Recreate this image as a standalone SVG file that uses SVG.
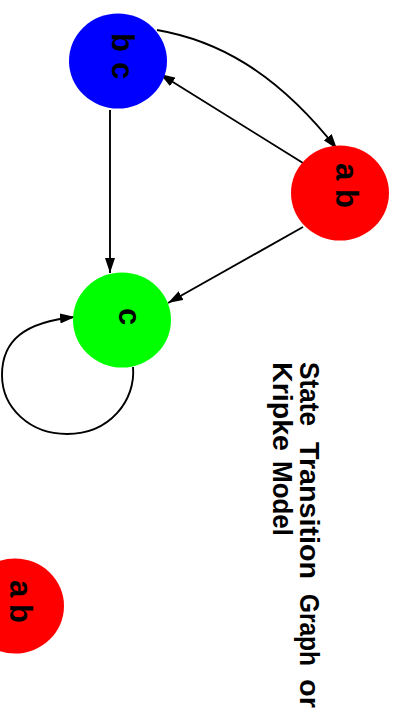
<svg xmlns="http://www.w3.org/2000/svg" width="396" height="715" viewBox="0 0 396 715">
  <style>
    .lbl { font-family: "Liberation Sans", Arial, sans-serif; font-weight: bold; font-size: 31px; fill: #000; }
    .title { font-family: "Liberation Sans", Arial, sans-serif; font-weight: bold; font-size: 28px; fill: #000; }
    .edge { fill: none; stroke: #000; stroke-width: 1.9; }
  </style>
  <defs>
    <marker id="arrow" viewBox="0 0 15 10" refX="15" refY="5" markerWidth="15" markerHeight="10" markerUnits="userSpaceOnUse" orient="auto">
      <path d="M0,0 L15,5 L0,10 Z" fill="#000"/>
    </marker>
  </defs>
  <rect width="396" height="715" fill="#fff"/>

  <!-- transitions -->
  <g id="edges">
    <path class="edge" d="M157,30 C215,40 275,70 337,149" marker-end="url(#arrow)"/>
    <path class="edge" d="M303,163 L160,74" marker-end="url(#arrow)"/>
    <path class="edge" d="M110,110 L110,273" marker-end="url(#arrow)"/>
    <path class="edge" d="M303,227 L168,303" marker-end="url(#arrow)"/>
    <path class="edge" d="M133,367 C136,400 110,434 67,434 C30,434 2,408 2,375 C2,340 25,322 75,317" marker-end="url(#arrow)"/>
  </g>

  <!-- states (graph drawn rotated: labels read top to bottom) -->
  <g id="state-bc">
    <ellipse cx="118" cy="61" rx="49" ry="47.5" fill="#0000ff"/>
    <text class="lbl" transform="translate(112,0) rotate(90)" y="0"><tspan x="33">b</tspan> <tspan x="62">c</tspan></text>
  </g>
  <g id="state-ab">
    <ellipse cx="340" cy="193" rx="49" ry="47.5" fill="#ff0000"/>
    <text class="lbl" transform="translate(336,0) rotate(90)" y="0"><tspan x="163">a</tspan> <tspan x="189">b</tspan></text>
  </g>
  <g id="state-c">
    <ellipse cx="122" cy="320" rx="49" ry="47.5" fill="#00ff00"/>
    <text class="lbl" transform="translate(119,0) rotate(90)" y="0" x="308">c</text>
  </g>
  <g id="state-ab-2">
    <ellipse cx="15" cy="606" rx="49" ry="47.5" fill="#ff0000"/>
    <text class="lbl" transform="translate(10,0) rotate(90)" y="0"><tspan x="580">a</tspan> <tspan x="604">b</tspan></text>
  </g>

  <!-- caption -->
  <g id="caption">
    <text class="title" transform="translate(300,0) rotate(90)" y="0">
      <tspan x="362" textLength="64" lengthAdjust="spacingAndGlyphs">State</tspan><tspan x="442" textLength="137" lengthAdjust="spacingAndGlyphs">Transition</tspan><tspan x="594" textLength="72" lengthAdjust="spacingAndGlyphs">Graph</tspan><tspan x="679" textLength="29" lengthAdjust="spacingAndGlyphs">or</tspan>
    </text>
    <text class="title" transform="translate(273,0) rotate(90)" y="0">
      <tspan x="362" textLength="89" lengthAdjust="spacingAndGlyphs">Kripke</tspan><tspan x="461" textLength="75" lengthAdjust="spacingAndGlyphs">Model</tspan>
    </text>
  </g>
</svg>
